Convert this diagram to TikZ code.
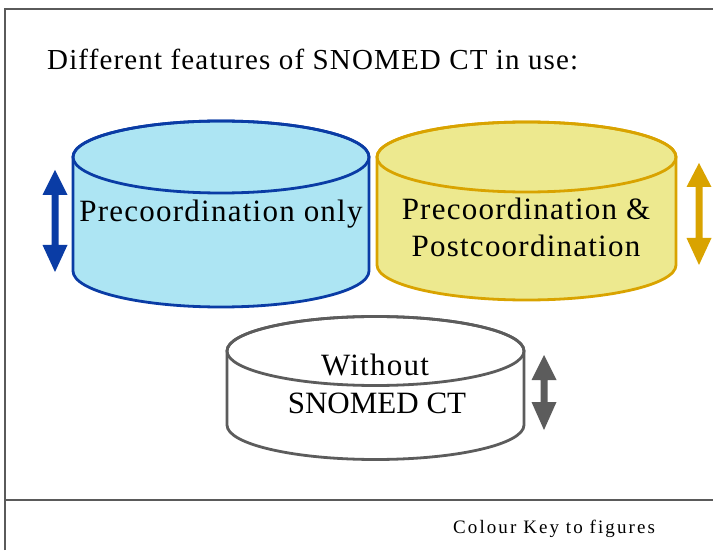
\documentclass[tikz,border=0pt]{standalone}
\usepackage{fontspec}
\setmainfont{Liberation Serif}
\definecolor{framegray}{HTML}{5A5A5A}
\definecolor{cylblue}{HTML}{0A3CA5}
\definecolor{fillblue}{HTML}{ADE5F3}
\definecolor{cylgold}{HTML}{D9A300}
\definecolor{fillgold}{HTML}{EDE98F}
\definecolor{cylgray}{HTML}{5C5C5C}
\newcommand\mycyl[7]{% x1, x2, ytop, ybot, ry, draw colour, fill colour
  \pgfmathsetmacro\cx{(#1+#2)/2}\pgfmathsetmacro\rx{(#2-#1)/2}
  \draw[cylline,draw=#6,fill=#7] (#1,#3) -- (#1,#4)
    arc[start angle=180,end angle=360,x radius=\rx,y radius=#5]
    -- (#2,#3)
    arc[start angle=0,end angle=180,x radius=\rx,y radius=#5] -- cycle;
  \draw[cylline,draw=#6] (\cx,#3) ellipse[x radius=\rx,y radius=#5];
}
\newcommand\myarrow[6]{% x, ytip top, yhead top, yhead bottom, ytip bottom, colour
  \fill[#6] (#1,#2) -- (#1+12.5,#3) -- (#1+3.5,#3) -- (#1+3.5,#4) -- (#1+12.5,#4)
    -- (#1,#5) -- (#1-12.5,#4) -- (#1-3.5,#4) -- (#1-3.5,#3) -- (#1-12.5,#3) -- cycle;
}
\begin{document}
\begin{tikzpicture}[x=1pt,y=1pt,
  cylline/.style={line width=2.8pt,line join=round},
  cyltext/.style={font=\fontsize{31}{37}\selectfont\addfontfeatures{LetterSpace=4},align=center,text=black},
  frameline/.style={draw=framegray,line width=1.2pt}]
\useasboundingbox (0,0) rectangle (713,550);
% frame
\draw[frameline] (5,0) -- (5,541) -- (713,541);
\draw[frameline] (5,50) -- (713,50);
% title
\node[anchor=base west,inner sep=0,font=\fontsize{29}{32}\selectfont\addfontfeatures{LetterSpace=4}] (title) at (47,480)
  {Different features of SNOMED CT in use:};
% cylinders
\mycyl{73}{369}{393}{279}{36}{cylblue}{fillblue}
\mycyl{377}{676}{393}{285}{35}{cylgold}{fillgold}
\mycyl{227}{524}{199}{125}{34.5}{cylgray}{white}
% texts
\node[cyltext,anchor=base] (pre) at (221,328) {Precoordination only};
\node[cyltext,anchor=base] (prepost) at (526,330) {Precoordination \&};
\node[cyltext,anchor=base] (post) at (526,293) {Postcoordination};
\node[cyltext,anchor=base] (without) at (375,175) {Without};
\node[cyltext,anchor=base,font=\fontsize{31}{37}\selectfont] (snomed) at (377,137) {SNOMED CT};
% arrows
\myarrow{55}{380}{355}{305}{278}{cylblue}
\myarrow{699}{387}{363}{312}{285}{cylgold}
\myarrow{544}{195}{170}{148}{120}{cylgray}
% footer
\node[anchor=base west,inner sep=0,font=\fontsize{19}{23}\selectfont\addfontfeatures{LetterSpace=11}] (key) at (453,17)
  {Colour Key to figures};
\end{tikzpicture}
\end{document}
